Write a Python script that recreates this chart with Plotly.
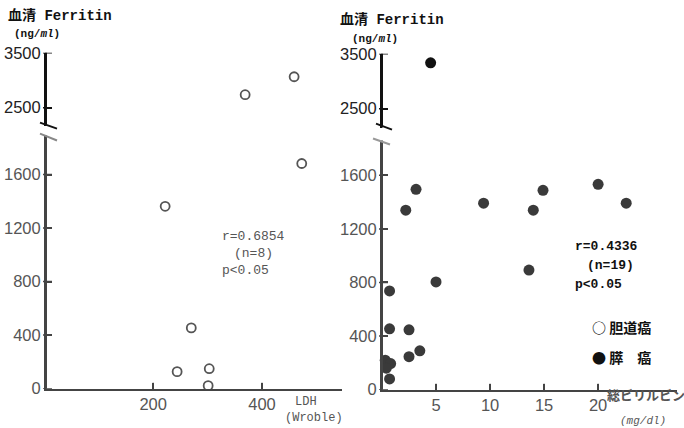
import plotly.graph_objects as go

# ---------------- data ----------------
ldh = [222, 244, 270, 301, 303, 369, 459, 473]
ferritin_ldh = [1363, 127, 454, 22, 149, 2736, 3064, 1683]

bilirubin = [4.5, 3.15, 2.2, 9.4, 5.0, 0.7, 0.7, 2.5, 3.5, 2.5,
             14.9, 14.0, 20.0, 22.6, 13.6, 0.3, 0.8, 0.4, 0.7]
ferritin_bil = [3336, 1496, 1340, 1392, 804, 737, 454, 447, 290, 246,
                1488, 1340, 1533, 1392, 893, 220, 195, 160, 80]

ytick_low = [0, 400, 800, 1200, 1600]
ytick_high = [2500, 3500]
xtick_ldh = [200, 400]
xtick_bil = [5, 10, 15, 20]

BREAK = 2000
W, H = 684, 428
# observed vertical mapping of the photographed page: shown = 0.9614 * fig + 8
VS, VO = 0.9614, 8.0


def fx(px):
    return px / W


def fy(py):
    return 1 - ((py - VO) / VS) / H


def split(xs, ys):
    lo = [(a, b) for a, b in zip(xs, ys) if b < BREAK]
    hi = [(a, b) for a, b in zip(xs, ys) if b >= BREAK]
    return ([p[0] for p in lo], [p[1] for p in lo], [p[0] for p in hi], [p[1] for p in hi])


fig = go.Figure()

open_marker = dict(symbol="circle-open", size=9, color="#555555", line=dict(width=1.8, color="#555555"))
fill_marker = dict(symbol="circle", size=11, color="#3a3a3a")

lx, ly, hx, hy = split(ldh, ferritin_ldh)
fig.add_trace(go.Scatter(x=lx, y=ly, mode="markers", marker=open_marker, xaxis="x", yaxis="y", cliponaxis=False, showlegend=False))
fig.add_trace(go.Scatter(x=hx, y=hy, mode="markers", marker=open_marker, xaxis="x2", yaxis="y2", cliponaxis=False, showlegend=False))

lx, ly, hx, hy = split(bilirubin, ferritin_bil)
fig.add_trace(go.Scatter(x=lx, y=ly, mode="markers", marker=fill_marker, xaxis="x3", yaxis="y3", cliponaxis=False, showlegend=False))
fig.add_trace(go.Scatter(x=hx, y=hy, mode="markers", marker=dict(symbol="circle", size=11, color="#111111"), xaxis="x4", yaxis="y4", cliponaxis=False, showlegend=False))

tickfont_low = dict(family="Liberation Sans, Arial, sans-serif", size=16.5, color="#555555")
tickfont_high = dict(family="Liberation Sans, Arial, sans-serif", size=16.5, color="#222222")

common_y = dict(showgrid=False, zeroline=False, showline=True, linewidth=2, ticks="inside", ticklen=6, tickwidth=1.5)
common_x = dict(showgrid=False, zeroline=False, showline=True, linewidth=2, ticks="inside", ticklen=6, tickwidth=1.5)
hidden_x = dict(showgrid=False, zeroline=False, showline=False, ticks="", showticklabels=False)

# panel geometry in target pixels
LX0, LX1 = 46, 342
RX0, RX1 = 382, 677
L_low, L_high = (389, 135), (125, 52)
R_low, R_high = (390, 140), (127, 53)

L_dom = [fx(LX0), fx(LX1)]
R_dom = [fx(RX0), fx(RX1)]

fig.update_layout(
    width=W, height=H,
    margin=dict(l=0, r=0, t=0, b=0),
    paper_bgcolor="white", plot_bgcolor="rgba(0,0,0,0)",
    xaxis=dict(domain=L_dom, range=[3, 547], anchor="y", tickvals=xtick_ldh, tickfont=tickfont_low,
               linecolor="#444444", tickcolor="#444444", **common_x),
    yaxis=dict(domain=[fy(L_low[0]), fy(L_low[1])], range=[0, 1892], anchor="x", tickvals=ytick_low, tickfont=tickfont_low,
               linecolor="#444444", tickcolor="#444444", **common_y),
    xaxis2=dict(domain=L_dom, range=[3, 547], anchor="y2", **hidden_x),
    yaxis2=dict(domain=[fy(L_high[0]), fy(L_high[1])], range=[2173, 3500], anchor="x2", tickvals=ytick_high, tickfont=tickfont_high,
                linecolor="#111111", tickcolor="#111111", **common_y),
    xaxis3=dict(domain=R_dom, range=[0, 27.3], anchor="y3", tickvals=xtick_bil, tickfont=tickfont_low,
                linecolor="#444444", tickcolor="#444444", **common_x),
    yaxis3=dict(domain=[fy(R_low[0]), fy(R_low[1])], range=[0, 1860], anchor="x3", tickvals=ytick_low, tickfont=tickfont_low,
                linecolor="#444444", tickcolor="#444444", **common_y),
    xaxis4=dict(domain=R_dom, range=[0, 27.3], anchor="y4", **hidden_x),
    yaxis4=dict(domain=[fy(R_high[0]), fy(R_high[1])], range=[2155, 3500], anchor="x4", tickvals=ytick_high, tickfont=tickfont_high,
                linecolor="#111111", tickcolor="#111111", **common_y),
)


def line(x0, y0, x1, y1, color, width=2, xref="paper", yref="paper"):
    fig.add_shape(type="line", xref=xref, yref=yref, x0=x0, y0=y0, x1=x1, y1=y1,
                  line=dict(color=color, width=width), layer="above")


# vertical axis lines and their ticks (drawn explicitly)
for (ax0, (yb, yt), yref, ticks, col) in [
        (LX0, L_low, "y", ytick_low, "#444444"),
        (LX0, L_high, "y2", ytick_high, "#111111"),
        (RX0, R_low, "y3", ytick_low, "#444444"),
        (RX0, R_high, "y4", ytick_high, "#111111")]:
    line(fx(ax0), fy(yb), fx(ax0), fy(yt), col)
    for v in ticks:
        line(fx(ax0 - 3), v, fx(ax0 + 6), v, col, 1.5, "paper", yref)

# x ticks
for v in xtick_ldh:
    line(v, fy(L_low[0]), v, fy(L_low[0] - 6), "#444444", 1.5, "x", "paper")
for v in xtick_bil:
    line(v, fy(R_low[0]), v, fy(R_low[0] - 6), "#444444", 1.5, "x3", "paper")

# break marks
for (x0, y0, x1, y1, c) in [(40, 122, 57, 128, "#111111"), (40, 133, 57, 140, "#888888"),
                             (376, 123, 392, 129, "#111111"), (373, 138, 390, 144, "#999999")]:
    line(fx(x0), fy(y0), fx(x1), fy(y1), c)

mono = "Liberation Mono, Noto Sans CJK JP, monospace"
cjk = "Noto Sans CJK JP, sans-serif"


def text(x, y, s, size, color="#111111", family=mono, anchor="left"):
    fig.add_annotation(x=fx(x), y=fy(y), xref="paper", yref="paper", text=s, showarrow=False,
                       xanchor=anchor, yanchor="middle", font=dict(family=family, size=size, color=color))


# titles
text(6, 15, "<b>血清 Ferritin</b>", 14)
text(12, 33, "<b>(ng/<i>ml</i>)</b>", 11)
text(338, 19, "<b>血清 Ferritin</b>", 14)
text(350, 38, "<b>(ng/<i>ml</i>)</b>", 11)

# stats
text(220, 236, "r=0.6854", 13, "#555555")
text(232, 253, "(n=8)", 13, "#555555")
text(220, 270, "p<0.05", 13, "#555555")
text(573, 246, "<b>r=0.4336</b>", 13)
text(585, 265, "<b>(n=19)</b>", 13)
text(573, 284, "<b>p<0.05</b>", 13)

# legend
text(590, 327, "<b>○ 胆道癌</b>", 14, family=cjk)
text(590, 357, "<b>● 膵　癌</b>", 14, family=cjk)

# axis titles
text(293, 402, "LDH", 12, "#555555")
text(283, 418, "(Wroble)", 12, "#555555")
text(605, 395, "<b>総ビリルビン</b>", 13, "#555555", family=cjk)
text(618, 421, "<i>(mg/dl)</i>", 11, "#555555")

fig.write_html("out.html")
